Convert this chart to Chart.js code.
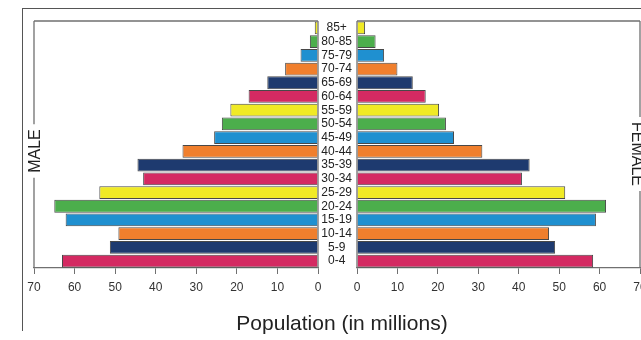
<!DOCTYPE html>
<html>
<head>
<meta charset="utf-8">
<script src="https://cdn.jsdelivr.net/npm/chart.js@4/dist/chart.umd.min.js"></script>
<style>
  html, body { margin: 0; padding: 0; background: #fff; overflow: hidden; width: 641px; height: 340px; }
  #page { position: relative; width: 641px; height: 340px; overflow: hidden; }
  #border { position: absolute; left: 22px; top: 8px; width: 700px; height: 322px; border-left: 1px solid #555; border-top: 1px solid #555; }
  #leftWrap { position: absolute; left: 0; top: 0; width: 330px; height: 340px; }
  #rightWrap { position: absolute; left: 318px; top: 0; width: 340px; height: 340px; }
  #title { position: absolute; left: 0; width: 684px; top: 311px; text-align: center; font-family: 'Liberation Sans', Arial, sans-serif; font-size: 21px; color: #222; }
</style>
</head>
<body>
<div id="page">
  <div id="border"></div>
  <div id="leftWrap"><canvas id="male" width="330" height="340"></canvas></div>
  <div id="rightWrap"><canvas id="female" width="340" height="340"></canvas></div>
  <div id="title">Population (in millions)</div>
</div>
<script>
const ageGroups = ['85+','80-85','75-79','70-74','65-69','60-64','55-59','50-54','45-49','40-44','35-39','30-34','25-29','20-24','15-19','10-14','5-9','0-4'];
const maleValues = [0.8, 2.0, 4.3, 8.1, 12.5, 17.1, 21.6, 23.7, 25.6, 33.4, 44.5, 43.1, 53.9, 65.0, 62.2, 49.2, 51.3, 63.1];
const femaleValues = [2.0, 4.6, 6.7, 10.0, 13.8, 17.0, 20.3, 22.0, 24.0, 31.0, 42.7, 40.8, 51.5, 61.6, 59.1, 47.5, 49.0, 58.4];
const xTicks = [0, 10, 20, 30, 40, 50, 60, 70];
const palette = ['#f0ea25', '#4cae4c', '#1f90d0', '#f07f2d', '#1e3a6f', '#d42a62'];
const barColors = ageGroups.map((_, i) => palette[i % palette.length]);

const FONT = "'Liberation Sans', Arial, sans-serif";
Chart.defaults.font.family = FONT;
Chart.defaults.color = '#222';
Chart.defaults.animation = false;

function framePlugin(side, label, labelY) {
  return {
    id: 'frame',
    afterDraw(chart) {
      const { ctx, chartArea: { left, right, top, bottom } } = chart;
      ctx.save();
      ctx.strokeStyle = '#707070';
      ctx.lineWidth = 1.3;
      ctx.font = '16px ' + FONT;
      const tw = ctx.measureText(label).width;
      const g1 = labelY - tw / 2 - 5, g2 = labelY + tw / 2 + 5;
      const outer = side === 'left' ? left : right;
      const inner = side === 'left' ? right : left;
      ctx.beginPath();
      ctx.moveTo(left, top); ctx.lineTo(right, top);
      ctx.moveTo(inner, top); ctx.lineTo(inner, bottom);
      ctx.moveTo(outer, top); ctx.lineTo(outer, g1);
      ctx.moveTo(outer, g2); ctx.lineTo(outer, bottom);
      ctx.stroke();
      ctx.fillStyle = '#222';
      ctx.textAlign = 'center';
      ctx.textBaseline = 'middle';
      if (side === 'left') {
        ctx.translate(outer + 2, labelY);
        ctx.rotate(-Math.PI / 2);
      } else {
        ctx.translate(outer - 4, labelY);
        ctx.rotate(Math.PI / 2);
      }
      ctx.fillText(label, 0, 0);
      ctx.restore();
    }
  };
}

function xScale(reverse) {
  return {
    type: 'linear',
    min: 0, max: 70,
    reverse: reverse,
    afterBuildTicks: s => { s.ticks = xTicks.map(v => ({ value: v })); },
    afterFit: s => { s.height = 30; },
    grid: { drawOnChartArea: false, drawTicks: true, tickLength: 6, color: '#707070' },
    border: { display: true, color: '#707070', width: 1.3 },
    ticks: { font: { size: 12 }, color: '#333', padding: 6, maxRotation: 0, autoSkip: false }
  };
}

const dsCommon = {
  backgroundColor: barColors,
  borderColor: 'rgba(40,40,40,0.85)',
  borderWidth: 1,
  borderSkipped: 'start',
  barPercentage: 0.93,
  categoryPercentage: 1.0
};

new Chart(document.getElementById('male'), {
  type: 'bar',
  data: { labels: ageGroups, datasets: [Object.assign({ label: 'Male', data: maleValues }, dsCommon)] },
  options: {
    responsive: false,
    indexAxis: 'y',
    layout: { padding: { left: 34, right: 12, top: 21, bottom: 42 } },
    plugins: { legend: { display: false }, tooltip: { enabled: false } },
    scales: {
      x: xScale(true),
      y: { display: false }
    }
  },
  plugins: [framePlugin('left', 'MALE', 151)]
});

new Chart(document.getElementById('female'), {
  type: 'bar',
  data: { labels: ageGroups, datasets: [Object.assign({ label: 'Female', data: femaleValues }, dsCommon)] },
  options: {
    responsive: false,
    indexAxis: 'y',
    layout: { padding: { left: 0, right: 18, top: 21, bottom: 42 } },
    plugins: { legend: { display: false }, tooltip: { enabled: false } },
    scales: {
      x: xScale(false),
      y: {
        position: 'left',
        afterFit: s => { s.width = 39; },
        grid: { display: false, drawTicks: false },
        border: { display: false },
        ticks: { font: { size: 12 }, color: '#222', crossAlign: 'center', padding: 5, autoSkip: false }
      }
    }
  },
  plugins: [framePlugin('right', 'FEMALE', 154)]
});
</script>
</body>
</html>
